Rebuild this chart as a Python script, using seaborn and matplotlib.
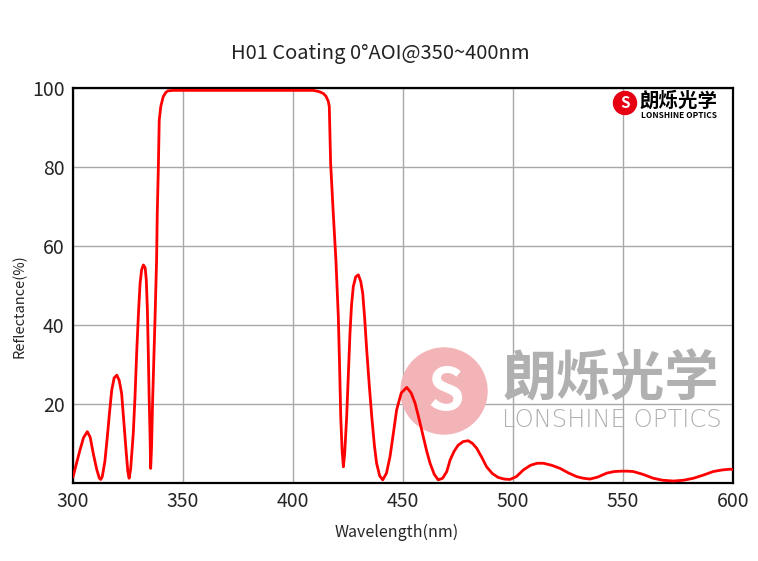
import matplotlib
matplotlib.use("Agg")
import matplotlib.pyplot as plt
from matplotlib.patches import Ellipse
import seaborn as sns

# values
wavelength = [300, 301.5, 303.2, 304.8, 306.5, 307.8, 309.2, 310.8, 312.0, 312.6,
              313.3, 314.5, 315.6, 316.6, 317.6, 318.7, 319.9, 321.0, 322.1, 323.1,
              324.1, 324.9, 325.5, 326.2, 327.4, 328.2, 329.0, 329.8, 330.5, 331.2,
              332.0, 332.8, 333.3, 333.8, 334.2, 334.6, 335.0, 335.3, 335.7, 336.2,
              336.8, 337.3, 338.0, 338.3, 338.8, 339.2, 339.9, 341.0, 342.2, 343.3,
              345.6, 409.2, 411.0, 412.3, 413.8, 415.0, 416.0, 416.5, 417.1, 418.3,
              419.5, 420.6, 421.2, 421.7, 422.3, 422.9, 423.5, 424.4, 425.2, 425.9,
              426.6, 427.4, 428.5, 429.7, 430.8, 431.7, 432.6, 433.5, 434.7, 435.8,
              437.0, 438.0, 439.4, 440.8, 442.5, 444.1, 445.6, 447.1, 449.2, 451.7,
              453.7, 455.5, 457.4, 459.2, 460.8, 462.3, 464.2, 466.0, 468.0, 469.9,
              471.4, 473.2, 475.1, 477.4, 479.7, 481.6, 483.5, 485.8, 488.0, 490.6,
              493.3, 496.0, 498.6, 501.5, 504.7, 508.0, 511.0, 513.8, 517.5, 521.4,
              525.0, 529.0, 532.0, 535.0, 538.5, 542.6, 546.0, 549.4, 552.0, 554.7,
              559.0, 563.8, 568.0, 572.9, 577.5, 582.0, 586.5, 591.0, 595.0, 598.6,
              600]
reflectance = [1.5, 4.8, 8.4, 11.5, 13.0, 11.6, 7.5, 3.4, 1.2, 0.9,
               1.6, 5.5, 11.7, 17.8, 23.5, 26.6, 27.3, 26.0, 22.7, 15.5,
               8.4, 3.0, 1.2, 3.5, 12.6, 22.0, 33.7, 43.5, 50.6, 54.0,
               55.2, 54.5, 51.5, 44.0, 33.7, 22.0, 12.7, 3.7, 9.0, 21.0,
               32.0, 42.0, 56.5, 68.3, 80.0, 91.9, 95.3, 97.8, 98.9, 99.3,
               99.4, 99.4, 99.2, 99.0, 98.6, 97.9, 96.7, 95.3, 81.0, 68.3,
               56.5, 42.1, 29.0, 16.8, 8.5, 4.1, 7.5, 16.8, 28.0, 37.9,
               45.0, 49.7, 52.2, 52.7, 51.0, 48.0, 41.5, 33.7, 24.5, 16.8,
               9.5, 5.0, 1.8, 0.8, 2.5, 6.7, 12.5, 18.5, 22.8, 24.2,
               22.8, 20.2, 16.0, 11.7, 8.0, 5.0, 2.2, 0.8, 1.2, 2.9,
               5.8, 8.0, 9.6, 10.5, 10.7, 10.0, 8.8, 6.5, 4.1, 2.4,
               1.4, 1.0, 0.9, 1.6, 3.3, 4.5, 5.0, 5.0, 4.5, 3.7,
               2.6, 1.6, 1.2, 1.0, 1.5, 2.5, 2.9, 3.0, 3.0, 2.9,
               2.2, 1.2, 0.7, 0.5, 0.7, 1.2, 2.0, 2.9, 3.3, 3.5,
               3.4]

x_ticks = [300, 350, 400, 450, 500, 550, 600]
y_ticks = [20, 40, 60, 80, 100]

sns.set_style("white")
plt.rcParams['font.family'] = ['Noto Sans CJK SC', 'DejaVu Sans']

W, H = 758, 561
fig = plt.figure(figsize=(W / 100, H / 100), dpi=100)
ax = fig.add_axes([73 / W, 1 - 483 / H, 660 / W, 395 / H])

sns.lineplot(x=wavelength, y=reflectance, ax=ax, color='#ff0000', linewidth=2.0,
             zorder=3, sort=False)
ax.lines[-1].set_solid_joinstyle('round')

ax.set_xlim(300, 600)
ax.set_ylim(0, 100)
ax.set_xticks(x_ticks)
ax.set_yticks(y_ticks)
ax.tick_params(labelsize=14, length=4, color='#a0a0a0', width=1, pad=2)
ax.grid(True, color='#a8a8a8', linewidth=1)
ax.set_axisbelow(True)
for s in ax.spines.values():
    s.set_color('black')
    s.set_linewidth(1.6)

ax.set_xlabel('Wavelength(nm)', fontsize=11.5)
ax.set_ylabel('Reflectance(%)', fontsize=10.5)
ax.xaxis.set_label_coords((397 - 73) / 660, (483 - 524) / 395)
ax.yaxis.set_label_coords((27 - 73) / 660, (483 - 306) / 395)
fig.text(380 / W, 1 - 53 / H, 'H01 Coating 0°AOI@350~400nm', fontsize=14.5,
         ha='center', va='center', color='#222222')


def fx(px):
    return px / W


def fy(py):
    return 1 - py / H


# watermark
ax.add_patch(Ellipse((fx(444), fy(391)), 86 / W, 86 / H, transform=fig.transFigure,
                     color='#f3b4b8', zorder=1.5, clip_on=False))
ax.text(fx(446), fy(393), 'S', transform=fig.transFigure, fontsize=42, fontweight='heavy',
        color='white', ha='center', va='center', zorder=1.6)
ax.text(fx(611), fy(380), '朗烁光学', transform=fig.transFigure, fontsize=39,
        fontweight='bold', color='#b0b0b0', ha='center', va='center', zorder=1.6)
ax.text(fx(612), fy(420), 'LONSHINE OPTICS', transform=fig.transFigure, fontsize=17.5,
        family='DejaVu Sans', fontweight='light', color='#b0b0b0', ha='center',
        va='center', zorder=1.6)

# top-right logo
ax.add_patch(Ellipse((fx(625), fy(103)), 23 / W, 23 / H, transform=fig.transFigure,
                     color='#e60012', zorder=4, clip_on=False))
ax.text(fx(625.5), fy(103.5), 'S', transform=fig.transFigure, fontsize=11, fontweight='heavy',
        color='white', ha='center', va='center', zorder=5)
ax.text(fx(679), fy(101), '朗烁光学', transform=fig.transFigure, fontsize=14,
        fontweight='bold', color='black', ha='center', va='center', zorder=5)
ax.text(fx(679), fy(115), 'LONSHINE OPTICS', transform=fig.transFigure, fontsize=6,
        fontweight='bold', color='black', ha='center', va='center', zorder=5)

fig.savefig('out.png', dpi=100)
